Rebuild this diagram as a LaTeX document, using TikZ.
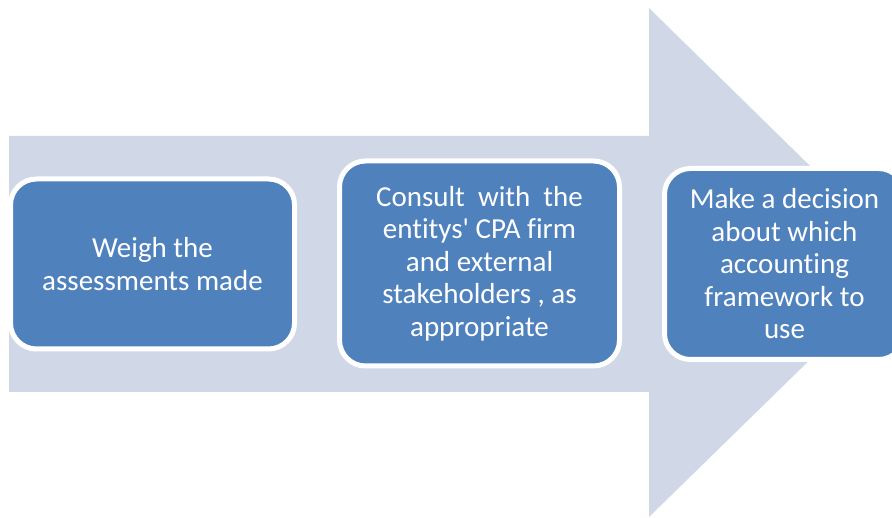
\documentclass[tikz,border=0pt]{standalone}
\usepackage{fontspec}
\setmainfont[Ligatures=NoCommon]{Carlito}
\usepackage{xcolor}
\usepackage{tikz}
\usetikzlibrary{positioning}

\definecolor{arrowgray}{HTML}{D0D8E8}
\definecolor{stepblue}{HTML}{4F81BD}

\begin{document}
\begin{tikzpicture}[
  x=1pt, y=-1pt,
  stepbox/.style={rectangle, rounded corners=26pt, draw=white, line width=5pt, fill=stepblue,
              text=white, align=center, font=\fontsize{29}{32.5}\selectfont,
              minimum height=170pt, minimum width=280pt, inner sep=0pt}
]
\useasboundingbox (0,0) rectangle (892,518);
\clip (0,0) rectangle (892,518);

% big arrow behind the steps
\fill[arrowgray] (9,136) -- (649,136) -- (649,8) -- (909,263)
  -- (649,517) -- (649,392) -- (9,392) -- cycle;

\node[stepbox, minimum width=284pt] (weigh) at (152.5,264)
  {Weigh the\\assessments made};
\node[stepbox, minimum height=205pt] (consult) at (479.5,263.5)
  {Consult\ \ with\ \ the\\entitys\textquotesingle{} CPA firm\\and external\\stakeholders , as\\appropriate};
\node[stepbox, minimum width=240pt, minimum height=191pt] (decide) at (784.5,264)
  {Make a decision\\about which\\accounting\\framework to\\use};

\end{tikzpicture}
\end{document}
